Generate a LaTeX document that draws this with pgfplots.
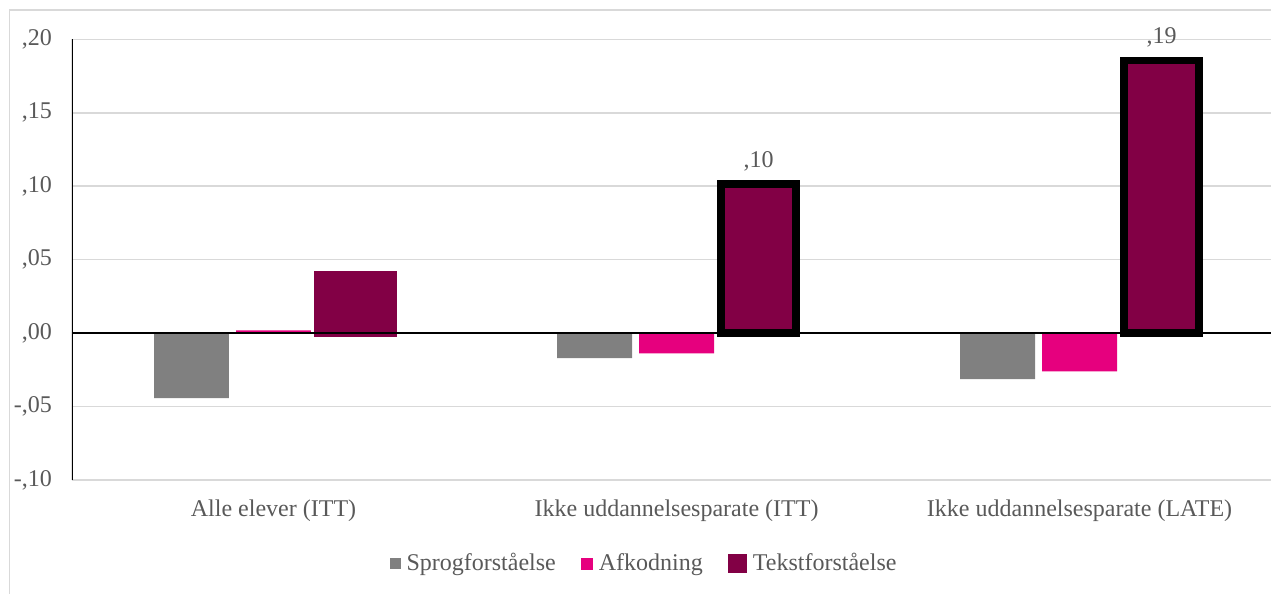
\documentclass[border=0pt]{standalone}
\usepackage{fontspec}
\setmainfont{Liberation Serif}
\usepackage{pgfplots}
\pgfplotsset{compat=1.18}
\definecolor{sgray}{HTML}{808080}
\definecolor{spink}{HTML}{E6007E}
\definecolor{smaroon}{HTML}{820045}
\definecolor{txtgray}{HTML}{595959}
\definecolor{gridgray}{HTML}{D9D9D9}
\begin{document}
\begin{tikzpicture}
\useasboundingbox (0,0) rectangle (635.5pt,-297pt);
\begin{scope}
\clip (0,0) rectangle (635.5pt,-297pt);
\draw[gridgray, line width=0.8pt] (4.65pt,-4.9pt) rectangle (700pt,-400pt);
\end{scope}
\begin{axis}[
  at={(36pt,-240pt)}, anchor=south west,
  scale only axis, width=599.5pt, height=220.35pt,
  xmin=-0.5, xmax=2.475, ymin=-0.1, ymax=0.2,
  ybar, bar width=0.186,
  axis line style={draw=none},
  ytick={-0.1,-0.05,0,0.05,0.1,0.15,0.2},
  yticklabels={{-,10},{-,05},{,00},{,05},{,10},{,15},{,20}},
  xtick={0,1,2},
  xticklabels={Alle elever (ITT), Ikke uddannelsesparate (ITT), Ikke uddannelsesparate (LATE)},
  major tick length=0pt,
  ymajorgrids, grid style={gridgray, line width=0.8pt},
  tick label style={text=txtgray, font=\fontsize{12}{14}\selectfont},
  yticklabel style={anchor=east, xshift=-6.5pt},
  xticklabel style={anchor=base, yshift=-18.35pt},
  legend columns=3,
  legend style={at={(0.4775,-0.1895)}, anchor=center, draw=none, fill=none,
    font=\fontsize{12}{14}\selectfont, text=txtgray,
    nodes={inner sep=1.5pt},
    /tikz/every odd column/.append style={column sep=1.5pt},
    /tikz/every even column/.append style={column sep=11pt}},
]
\addplot[fill=sgray, draw=none, bar shift=-0.2035,
  legend image code/.code={\fill[sgray, draw=none] (0pt,-2.75pt) rectangle (5.5pt,2.75pt);}]
  coordinates {(0,-0.0442) (1,-0.0170) (2,-0.0313)};
\addlegendentry{Sprogforståelse}
\addplot[fill=spink, draw=none, bar shift=0,
  legend image code/.code={\fill[spink, draw=none] (0pt,-3pt) rectangle (6pt,3pt);}]
  coordinates {(0,0.0018) (1,-0.0138) (2,-0.0261)};
\addlegendentry{Afkodning}
\addplot[fill=smaroon, draw=smaroon, line width=3.85pt, bar shift=0.2035,
  legend image code/.code={\fill[smaroon, draw=none] (0pt,-4.75pt) rectangle (9.5pt,4.75pt);}]
  coordinates {(0,0.0396)};
\addlegendentry{Tekstforståelse}
\draw[black, line width=0.9pt] (axis cs:-0.5,0) -- (axis cs:2.475,0);
\addplot[fill=smaroon, draw=black, line width=3.85pt, bar shift=0.2035, forget plot,
  point meta=explicit symbolic, nodes near coords,
  nodes near coords style={anchor=base, yshift=8.5pt, text=txtgray, font=\fontsize{12}{14}\selectfont}]
  coordinates {(1,0.1015) [,10] (2,0.1855) [,19]};
\draw[black, line width=1.1pt] (axis cs:-0.5,-0.1) -- (axis cs:-0.5,0.2);
\end{axis}
\end{tikzpicture}
\end{document}
